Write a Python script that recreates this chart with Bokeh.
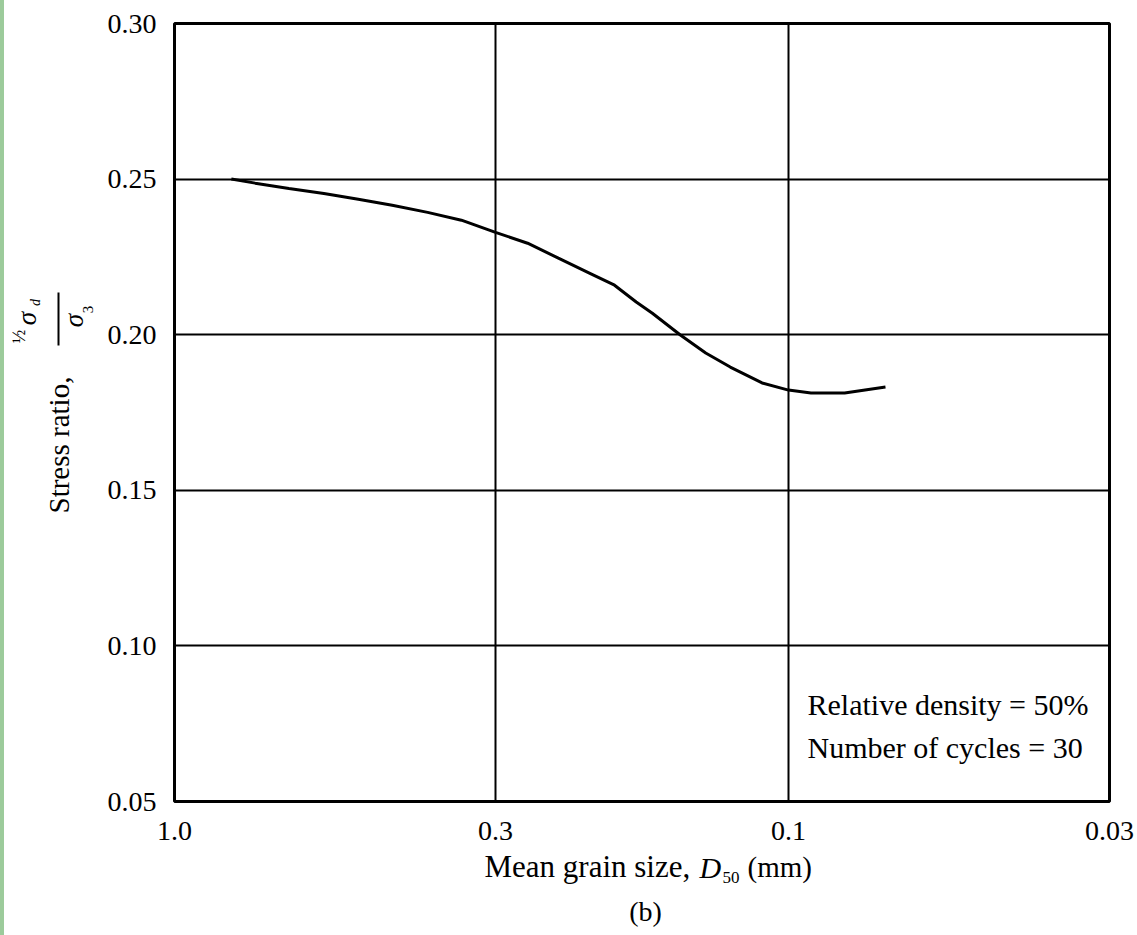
import math
from bokeh.plotting import figure
from bokeh.models import Range1d, FixedTicker, Label, BoxAnnotation, Div
from bokeh.layouts import row, column
from bokeh.embed import file_html
from bokeh.resources import INLINE

# ---- data ----
grain_size_mm = [0.808, 0.739, 0.651, 0.571, 0.502, 0.442, 0.387, 0.341,
                 0.300, 0.266, 0.237, 0.211, 0.192, 0.177, 0.1666, 0.150,
                 0.1364, 0.1244, 0.1104, 0.100, 0.0919, 0.0810, 0.0695]
stress_ratio = [0.2500, 0.2487, 0.2470, 0.2454, 0.2435, 0.2416, 0.2393, 0.2368,
                0.2329, 0.2294, 0.2246, 0.2198, 0.2159, 0.2105, 0.2069, 0.1999,
                0.1941, 0.1896, 0.1845, 0.1822, 0.1813, 0.1813, 0.1832]
x_ticks = [1.0, 0.3, 0.1, 0.03]
x_tick_labels = ["1.0", "0.3", "0.1", "0.03"]
y_ticks = [0.05, 0.10, 0.15, 0.20, 0.25, 0.30]
y_tick_labels = ["0.05", "0.10", "0.15", "0.20", "0.25", "0.30"]

FONT = "Liberation Serif"
W, H = 1137, 935
STRIP = 4          # green strip at the far left
LEFT_W = 100       # panel holding the rotated y title
TOP_H = 850        # height of plot row; x title panel below it
FR_L, FR_R, FR_T, FR_B = 172, 1109, 23, 801   # frame edges in page pixels
BASE_FIX = 0.38    # baseline correction (fraction of font size)

p = figure(width=W - STRIP - LEFT_W, height=TOP_H, x_axis_type="log",
           x_range=Range1d(1.0, 0.03), y_range=Range1d(0.05, 0.30),
           output_backend="svg", toolbar_location=None,
           min_border_left=FR_L - STRIP - LEFT_W, min_border_right=W - FR_R,
           min_border_top=FR_T, min_border_bottom=TOP_H - FR_B)
p.background_fill_color = "white"
p.border_fill_color = "white"
p.outline_line_color = "black"
p.outline_line_width = 3

p.xaxis.ticker = FixedTicker(ticks=x_ticks, minor_ticks=[])
p.xaxis.major_label_overrides = dict(zip(x_ticks, x_tick_labels))
p.yaxis.ticker = FixedTicker(ticks=y_ticks, minor_ticks=[])
p.yaxis.major_label_overrides = dict(zip(y_ticks, y_tick_labels))
for ax in (p.xaxis, p.yaxis):
    ax.axis_line_color = None
    ax.major_tick_line_color = None
    ax.minor_tick_line_color = None
    ax.major_label_text_font = FONT
    ax.major_label_text_font_size = "28px"
    ax.major_label_text_color = "black"
p.xaxis.major_label_standoff = 14
p.yaxis.major_label_standoff = 12

for g in (p.xgrid, p.ygrid):
    g.grid_line_color = "black"
    g.grid_line_width = 2
    g.grid_line_alpha = 1.0

p.line(grain_size_mm, stress_ratio, line_color="black", line_width=3)


def blank(width, height, top=0, bottom=0):
    f = figure(width=width, height=height, output_backend="svg", toolbar_location=None,
               x_axis_location=None, y_axis_location=None,
               min_border_left=0, min_border_right=0,
               min_border_top=top, min_border_bottom=bottom,
               x_range=Range1d(0, 1), y_range=Range1d(0, 1))
    f.outline_line_color = None
    f.background_fill_color = "white"
    f.border_fill_color = "white"
    f.grid.visible = False
    return f


left = blank(LEFT_W, TOP_H, top=FR_T, bottom=TOP_H - FR_B)
bottom = blank(W - STRIP, H - TOP_H)

# frame origins in page pixels: (x of frame left, y of frame bottom)
ORIGIN = {id(p): (FR_L, FR_B), id(left): (STRIP, FR_B), id(bottom): (STRIP, H)}


def lab(fig, text, ix, iy, size, align="left", angle=0.0, style="normal"):
    """Place text with its baseline at page pixel (ix, iy)."""
    ox, oy = ORIGIN[id(fig)]
    fix = BASE_FIX * size
    if angle:
        ax_, ay_ = ix - fix, iy
    else:
        ax_, ay_ = ix, iy - fix
    fig.add_layout(Label(x=ax_ - ox, y=oy - ay_, x_units="screen", y_units="screen",
                         text=text, text_font=FONT, text_font_size=f"{size}px",
                         text_align=align, text_baseline="alphabetic", angle=angle,
                         text_font_style=style, text_color="black"))


# x-axis title
lab(bottom, "Mean grain size,", 484, 878, 31)
lab(bottom, "D", 699, 878, 30, style="italic")
lab(bottom, "50", 722, 883, 17)
lab(bottom, "(mm)", 747, 878, 29)
lab(bottom, "(b)", 645, 922, 28, align="center")

# y-axis title (rotated, reads bottom to top)
R = math.pi / 2
lab(left, "Stress ratio,", 70, 513, 29, angle=R)
lab(left, "½", 25, 336, 18, align="center", angle=R)
lab(left, "σ", 37, 318, 27, align="center", angle=R, style="italic")
lab(left, "d", 40, 302, 14, align="center", angle=R, style="italic")
lab(left, "σ", 84, 320, 27, align="center", angle=R, style="italic")
lab(left, "3", 93, 309, 15, align="center", angle=R)
left.add_layout(BoxAnnotation(left=57 - STRIP, right=59 - STRIP,
                              bottom=FR_B - 345, top=FR_B - 292,
                              left_units="screen", right_units="screen",
                              bottom_units="screen", top_units="screen",
                              fill_color="black", fill_alpha=1.0, line_color=None))

# annotation inside the plot
lab(p, "Relative density = 50%", 805, 715, 30)
lab(p, "Number of cycles = 30", 805, 758, 30)

strip = Div(text="", width=STRIP, height=H, margin=0,
            styles={"background-color": "#9ccb9b"})
layout = row(strip, column(row(left, p, spacing=0), bottom, spacing=0), spacing=0)

open("out.html", "w").write(file_html(layout, INLINE))
